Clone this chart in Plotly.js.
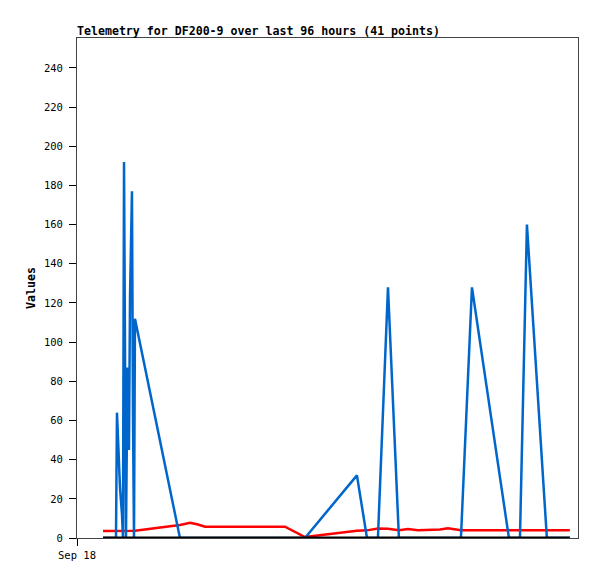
<!DOCTYPE html>
<html>
<head>
<meta charset="utf-8">
<script src="https://cdn.plot.ly/plotly-3.0.1.min.js"></script>
<style>html,body{margin:0;padding:0;background:#fff;}#chart{width:597px;height:579px;}</style>
</head>
<body>
<div id="chart"></div>
<script>
const times = [
  "2023-09-18 05:21","2023-09-18 08:01","2023-09-18 08:13","2023-09-18 08:50","2023-09-18 09:15",
  "2023-09-18 09:27","2023-09-18 09:40","2023-09-18 09:52","2023-09-18 10:04","2023-09-18 10:23",
  "2023-09-18 10:41","2023-09-18 10:54","2023-09-18 11:18","2023-09-18 11:31","2023-09-18 11:43",
  "2023-09-18 11:55","2023-09-18 21:10","2023-09-18 23:14","2023-09-19 00:40","2023-09-19 02:19",
  "2023-09-19 18:45","2023-09-19 22:52","2023-09-20 09:33","2023-09-20 11:37","2023-09-20 13:52",
  "2023-09-20 15:56","2023-09-20 18:11","2023-09-20 20:02","2023-09-20 22:06","2023-09-21 00:34",
  "2023-09-21 02:37","2023-09-21 04:16","2023-09-21 06:56","2023-09-21 09:12","2023-09-21 16:48",
  "2023-09-21 19:04","2023-09-21 20:30","2023-09-22 00:36","2023-09-22 02:15","2023-09-22 03:54",
  "2023-09-22 05:20"
];
const blueValues = [
  0, 0, 64, 26, 12,
  0, 192, 96, 0, 87,
  45, 123, 177, 60, 0,
  112, 0, 0, 0, 0,
  0, 0, 32, 0, 0,
  128, 0, 0, 0, 0,
  0, 0, 0, 128, 0,
  0, 160, 0, 0, 0,
  0
];
const redValues = [
  3.6, 3.6, 3.6, 3.6, 3.6,
  3.6, 3.6, 3.6, 3.6, 3.6,
  3.6, 3.6, 3.6, 3.6, 3.6,
  3.7, 6.6, 7.8, 7.0, 5.8,
  5.8, 0.5, 3.7, 3.9, 4.8,
  4.7, 4.0, 4.6, 3.9, 4.0,
  4.4, 5.0, 4.0, 4.0, 4.0,
  4.0, 4.0, 4.0, 4.0, 4.0,
  4.0
];
const blackValues = [
  0,0,0,0,0,0,0,0,0,0,0,0,0,0,0,0,0,0,0,0,
  0,0,0,0,0,0,0,0,0,0,0,0,0,0,0,0,0,0,0,0,0
];
const yTicks = [0,20,40,60,80,100,120,140,160,180,200,220,240];
const xTickVals = ["2023-09-18 00:00"];
const xTickText = ["Sep 18"];
const titleText = "Telemetry for DF200-9 over last 96 hours (41 points)";

const mono = "DejaVu Sans Mono, monospace";
const traces = [
  {x: times, y: redValues, type: "scatter", mode: "lines", line: {color: "#ff0000", width: 2.5}, hoverinfo: "skip"},
  {x: times, y: blueValues, type: "scatter", mode: "lines", line: {color: "#0066cc", width: 2.5}, hoverinfo: "skip"},
  {x: times, y: blackValues, type: "scatter", mode: "lines", line: {color: "#000000", width: 3}, hoverinfo: "skip"}
];
const layout = {
  width: 597, height: 579,
  margin: {l: 77, r: 19, t: 38, b: 41, pad: 0},
  paper_bgcolor: "#ffffff", plot_bgcolor: "#ffffff",
  showlegend: false,
  title: {text: "<b>" + titleText + "</b>", x: 0, xanchor: "left", xref: "paper", y: 1 - 31/579, yanchor: "middle", yref: "container",
          font: {family: mono, size: 11.6, color: "#000"}},
  xaxis: {type: "date", range: ["2023-09-18 00:00", "2023-09-22 07:00"], tickmode: "array", tickvals: xTickVals, ticktext: xTickText,
          ticks: "outside", ticklen: 7, tickcolor: "#000", showgrid: false, zeroline: false,
          showline: true, linecolor: "#444", linewidth: 1, mirror: true,
          tickfont: {family: mono, size: 10.5, color: "#000"}},
  yaxis: {range: [0, 255.3], tickmode: "array", tickvals: yTicks, ticks: "outside", ticklen: 7, tickcolor: "#000",
          ticklabelstandoff: 4,
          showgrid: false, zeroline: false, showline: true, linecolor: "#444", linewidth: 1, mirror: true,
          tickfont: {family: mono, size: 10.5, color: "#000"},
          title: {text: "<b>Values</b>", font: {family: mono, size: 11.6, color: "#000"}, standoff: 5}}
};
Plotly.newPlot("chart", traces, layout, {staticPlot: true, displayModeBar: false});
</script>
</body>
</html>
